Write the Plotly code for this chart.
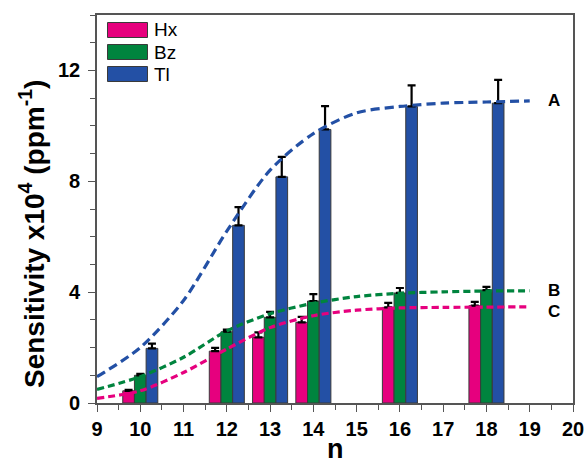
import plotly.graph_objects as go

# Chain length n of the analyte groups
n_values = [10, 12, 13, 14, 16, 18]

# Sensitivity (x10^4, ppm^-1) and upper error for each sensor coating
hx_sens = [0.44, 1.87, 2.37, 2.91, 3.45, 3.51]
hx_err = [0.03, 0.12, 0.18, 0.20, 0.16, 0.14]
bz_sens = [1.00, 2.57, 3.09, 3.68, 3.97, 4.07]
bz_err = [0.05, 0.08, 0.20, 0.25, 0.18, 0.12]
tl_sens = [1.97, 6.41, 8.16, 9.87, 10.70, 10.82]
tl_err = [0.17, 0.66, 0.72, 0.84, 0.76, 0.84]

# Fitted trend curves A (Tl), B (Bz), C (Hx)
fit_n = [9, 10, 11, 12, 13, 14, 15, 16, 17, 18, 19]
fit_a = [0.95, 2.0, 3.7, 6.2, 8.4, 9.72, 10.47, 10.7, 10.82, 10.86, 10.9]
fit_b = [0.49, 0.95, 1.65, 2.6, 3.22, 3.6, 3.84, 3.96, 4.01, 4.04, 4.05]
fit_c = [0.17, 0.44, 1.1, 1.95, 2.72, 3.15, 3.35, 3.43, 3.45, 3.46, 3.47]
curve_labels = ["A", "B", "C"]

series_names = ["Hx", "Bz", "Tl"]
PINK = "#E6007E"
GREEN = "#00843E"
BLUE = "#2350A5"
colors = [PINK, GREEN, BLUE]
FONT = "Liberation Sans, Arial, sans-serif"

BAR_W = 0.27
offsets = [-1.5 * BAR_W, -0.5 * BAR_W, 0.5 * BAR_W]

fig = go.Figure()

for name, vals, errs, col, off in zip(series_names,
                                      [hx_sens, bz_sens, tl_sens],
                                      [hx_err, bz_err, tl_err],
                                      colors, offsets):
    fig.add_trace(go.Bar(
        x=n_values, y=vals, name=name, width=BAR_W, offset=off,
        marker=dict(color=col, line=dict(color="#3a3a3a", width=1)),
        error_y=dict(type="data", array=errs, arrayminus=[0] * len(errs),
                     symmetric=False, color="black", thickness=2.2, width=4),
        showlegend=False,
    ))

for ys, col, dash in zip([fit_a, fit_b, fit_c], [BLUE, GREEN, PINK],
                         ["9px,5px", "7px,4px", "7px,4px"]):
    fig.add_trace(go.Scatter(
        x=fit_n, y=ys, mode="lines",
        line=dict(color=col, width=3.2, dash=dash, shape="spline", smoothing=0.8),
        showlegend=False, hoverinfo="skip",
    ))

# Curve end labels
for lab, ys in zip(curve_labels, [fit_a, fit_b, fit_c]):
    yy = ys[-1]
    if lab == "C":
        yy = ys[-1] - 0.18
    fig.add_annotation(x=19.55, y=yy, text="<b>%s</b>" % lab, showarrow=False,
                       xanchor="center", yanchor="middle",
                       font=dict(family=FONT, size=17, color="black"))

# Legend drawn as wide swatches in paper coordinates
L, R, T, B = 97.0, 573.0, 15.0, 403.0
def px_x(p):
    return (p - L) / (R - L)
def px_y(p):
    return (B - p) / (B - T)

for i, (name, col) in enumerate(zip(series_names, colors)):
    top = 22.5 + 22 * i
    fig.add_shape(type="rect", xref="paper", yref="paper",
                  x0=px_x(107.5), x1=px_x(147.5), y0=px_y(top + 15), y1=px_y(top),
                  fillcolor=col, line=dict(color="#3a3a3a", width=1))
    fig.add_annotation(xref="paper", yref="paper", x=px_x(152), y=px_y(top + 7.5),
                       text=name, showarrow=False, xanchor="left", yanchor="middle",
                       font=dict(family=FONT, size=19, color="black"))

# Axis titles
fig.add_annotation(xref="paper", yref="paper", x=px_x(32), y=px_y(234),
                   text="<b>Sensitivity x10<sup>4</sup> (ppm<sup>-1</sup>)</b>",
                   textangle=-90, showarrow=False, xanchor="center", yanchor="middle",
                   font=dict(family=FONT, size=28, color="black"))
fig.add_annotation(xref="paper", yref="paper", x=0.5, y=px_y(449),
                   text="<b>n</b>", showarrow=False, xanchor="center", yanchor="middle",
                   font=dict(family=FONT, size=27, color="black"))

axis_common = dict(showline=True, linecolor="#555555", linewidth=1.6, mirror=True,
                   ticks="outside", ticklen=7, tickwidth=1.3, tickcolor="#555555",
                   showgrid=False, zeroline=False, automargin=False,
                   tickfont=dict(family=FONT, size=20, color="black"))

fig.update_layout(
    width=587, height=464,
    margin=dict(l=97, r=14, t=15, b=61),
    paper_bgcolor="white", plot_bgcolor="white",
    barmode="overlay",
    xaxis=dict(range=[9, 20], tickmode="array", tickvals=list(range(9, 21)),
               ticktext=["<b>%d</b>" % v for v in range(9, 21)],
               minor=dict(dtick=0.5, tick0=9, ticks="outside", ticklen=5,
                          tickcolor="#555555", tickwidth=1.2),
               **axis_common),
    yaxis=dict(range=[0, 14], tickmode="array", tickvals=[0, 4, 8, 12],
               ticktext=["<b>%d</b>" % v for v in [0, 4, 8, 12]],
               minor=dict(dtick=1, tick0=0, ticks="outside", ticklen=5,
                          tickcolor="#555555", tickwidth=1.2),
               ticklabelstandoff=4,
               **axis_common),
)

fig.write_html("out.html")
